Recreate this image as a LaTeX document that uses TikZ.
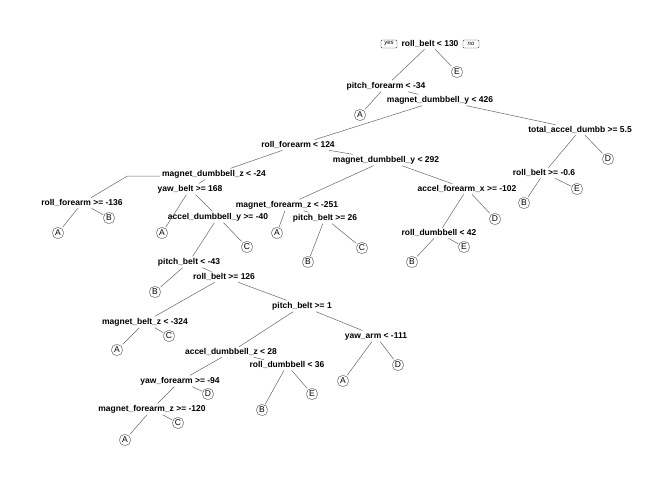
\documentclass[tikz,border=0pt]{standalone}
\usepackage{fontspec}
\setmainfont{Liberation Sans}
\usetikzlibrary{positioning}

\begin{document}
\begin{tikzpicture}[x=1pt,y=-1pt]
	\useasboundingbox (0,0) rectangle (672,480);
	\tikzset{
		split/.style={font=\fontsize{8.5}{10}\selectfont\bfseries,inner sep=1.5pt},
		leaf/.style={draw=black!75,rounded corners=5pt,font=\fontsize{8.5}{10}\selectfont,
			inner sep=1pt,minimum width=11pt,minimum height=11pt},
		tag/.style={draw=black!75,rounded corners=1pt,font=\fontsize{6}{7}\selectfont\itshape,
			inner sep=1pt,minimum width=16pt,minimum height=8pt},
		branch/.style={draw=black!60,line width=0.5pt}
	}

	% split labels
	\begin{scope}[every node/.style={split}]
		\node (root) at (430,44) {roll\_belt < 130};
		\node (pf) at (386,86) {pitch\_forearm < -34};
		\node (mdyA) at (440,100) {magnet\_dumbbell\_y < 426};
		\node (tad) at (580,130) {total\_accel\_dumbb >= 5.5};
		\node (rbB) at (544,173) {roll\_belt >= -0.6};
		\node (rfA) at (298,145) {roll\_forearm < 124};
		\node (mdyB) at (386,160) {magnet\_dumbbell\_y < 292};
		\node (afx) at (467,189) {accel\_forearm\_x >= -102};
		\node (rdA) at (439,233) {roll\_dumbbell < 42};
		\node (mfzA) at (287,205) {magnet\_forearm\_z < -251};
		\node (pbA) at (325,218) {pitch\_belt >= 26};
		\node (mdz) at (214,174) {magnet\_dumbbell\_z < -24};
		\node (rfB) at (82,203) {roll\_forearm >= -136};
		\node (yb) at (190,189) {yaw\_belt >= 168};
		\node (ady) at (218,217) {accel\_dumbbell\_y >= -40};
		\node (pbB) at (189,262) {pitch\_belt < -43};
		\node (rbC) at (224,277) {roll\_belt >= 126};
		\node (mbz) at (145,322) {magnet\_belt\_z < -324};
		\node (pbC) at (302,306) {pitch\_belt >= 1};
		\node (adz) at (231,352) {accel\_dumbbell\_z < 28};
		\node (ya) at (376,336) {yaw\_arm < -111};
		\node (rdB) at (287,365) {roll\_dumbbell < 36};
		\node (yf) at (180,381) {yaw\_forearm >= -94};
		\node (mfzB) at (152,409) {magnet\_forearm\_z >= -120};
	\end{scope}

	\node[tag] (yes) at (389,44) {yes};
	\node[tag] (no) at (471,44) {no};

	% leaves
	\begin{scope}[every node/.style={leaf}]
		\node (e1) at (457,72) {E};
		\node (a1) at (360,115) {A};
		\node (d1) at (608,159) {D};
		\node (b1) at (524,203) {B};
		\node (e2) at (577,189) {E};
		\node (d2) at (495,219) {D};
		\node (b2) at (412,262) {B};
		\node (e3) at (464,247) {E};
		\node (a2) at (277,233) {A};
		\node (b3) at (308,262) {B};
		\node (c1) at (362,248) {C};
		\node (a3) at (58,233) {A};
		\node (b4) at (109,218) {B};
		\node (a4) at (162,233) {A};
		\node (c2) at (247,247) {C};
		\node (b5) at (155,292) {B};
		\node (a5) at (117,350) {A};
		\node (c3) at (169,336) {C};
		\node (a6) at (343,381) {A};
		\node (d3) at (398,365) {D};
		\node (b6) at (262,410) {B};
		\node (e4) at (312,394) {E};
		\node (d4) at (208,394) {D};
		\node (a7) at (125,440) {A};
		\node (c4) at (178,423) {C};
	\end{scope}

	% branches
	\begin{scope}[every edge/.style={branch}]
		\path (root) edge (pf) edge (e1);
		\path (pf) edge (a1) edge (mdyA);
		\path (mdyA) edge (rfA) edge (tad);
		\path (tad) edge (rbB) edge (d1);
		\path (rbB) edge (b1) edge (e2);
		\path (rfA) edge (mdz) edge (mdyB);
		\path (mdyB) edge (mfzA) edge (afx);
		\path (afx) edge (rdA) edge (d2);
		\path (rdA) edge (b2) edge (e3);
		\path (mfzA) edge (a2) edge (pbA);
		\path (pbA) edge (b3) edge (c1);
		\path (mdz) edge (yb);
		\path (rfB) edge (a3) edge (b4);
		\path (yb) edge (a4) edge (ady);
		\path (ady) edge (pbB) edge (c2);
		\path (pbB) edge (b5) edge (rbC);
		\path (rbC) edge (mbz) edge (pbC);
		\path (mbz) edge (a5) edge (c3);
		\path (pbC) edge (adz) edge (ya);
		\path (ya) edge (a6) edge (d3);
		\path (adz) edge (yf) edge (rdB);
		\path (rdB) edge (b6) edge (e4);
		\path (yf) edge (mfzB) edge (d4);
		\path (mfzB) edge (a7) edge (c4);
	\end{scope}
	\draw[branch] ([yshift=-2pt]mdz.west) -- ++(-33,0) -- (rfB);
\end{tikzpicture}
\end{document}
